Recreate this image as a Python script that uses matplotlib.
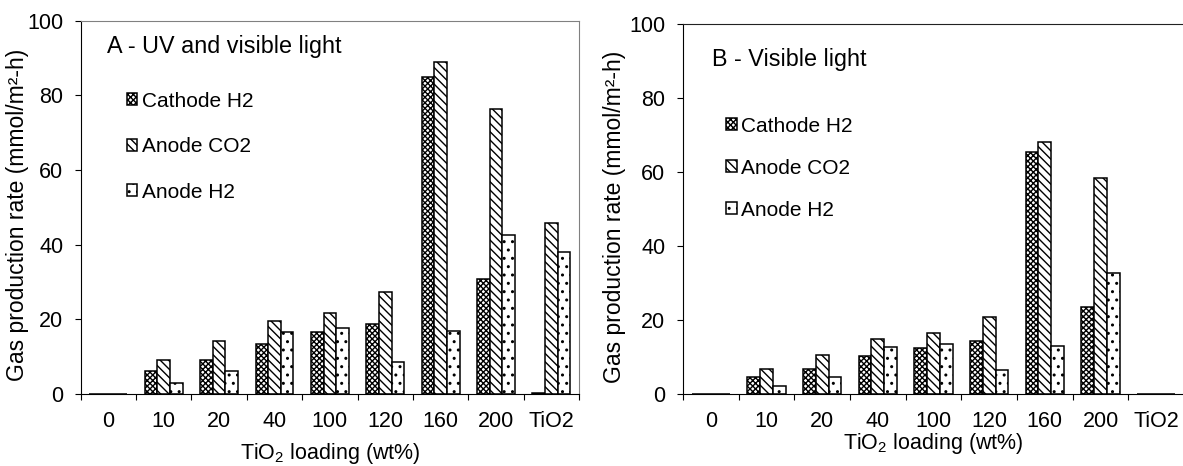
import numpy as np
import matplotlib
matplotlib.use("Agg")
import matplotlib.pyplot as plt

plt.rcParams['font.family'] = ['Liberation Sans', 'DejaVu Sans']
plt.rcParams['mathtext.fontset'] = 'custom'
plt.rcParams['mathtext.rm'] = 'Liberation Sans'
plt.rcParams['mathtext.it'] = 'Liberation Sans'
plt.rcParams['hatch.linewidth'] = 1.0

# data
categories = ['0', '10', '20', '40', '100', '120', '160', '200', 'TiO2']
series = ['Cathode H2', 'Anode CO2', 'Anode H2']

uv_cathode_h2 = [0, 6.1, 9.2, 13.5, 16.5, 18.8, 85.0, 30.9, 0.2]
uv_anode_co2 = [0, 9.2, 14.1, 19.5, 21.7, 27.2, 88.9, 76.4, 45.9]
uv_anode_h2 = [0, 2.9, 6.2, 16.6, 17.7, 8.6, 17.0, 42.7, 38.0]

vis_cathode_h2 = [0, 4.5, 6.8, 10.3, 12.5, 14.3, 65.4, 23.6, 0]
vis_anode_co2 = [0, 6.8, 10.5, 14.9, 16.5, 20.7, 68.2, 58.5, 0]
vis_anode_h2 = [0, 2.1, 4.6, 12.6, 13.5, 6.6, 13.1, 32.7, 0]

hatches = ['xxxxxx', '\\\\\\\\', '..']

W, H = 1183, 466
fig = plt.figure(figsize=(W / 100, H / 100), dpi=100)

ax1 = fig.add_axes([80.7 / W, (H - 394) / H, 498.3 / W, 373.3 / H])
ax2 = fig.add_axes([683 / W, (H - 394) / H, 501 / W, 369.7 / H])


def draw_panel(ax, data, title, title_pos, leg_pos, leg_space, ylab_x, xlab_y):
    x = np.arange(len(categories))
    bw = 0.228
    for i, (vals, h) in enumerate(zip(data, hatches)):
        ax.bar(x + (i - 1) * bw, vals, bw, color='white', edgecolor='black',
               hatch=h, linewidth=1.1, label=series[i])
    ax.set_xlim(-0.5, len(categories) - 0.5)
    ax.set_ylim(0, 100)
    ax.set_yticks(np.arange(0, 101, 20))
    ax.set_xticks(np.arange(len(categories) + 1) - 0.5)
    ax.set_xticklabels([])
    ax.set_xticks(x, minor=True)
    ax.set_xticklabels(categories, minor=True)
    ax.tick_params(axis='x', which='major', direction='out', length=4.6, width=0.8)
    ax.tick_params(axis='x', which='minor', length=0, pad=12, labelsize=15.5)
    ax.tick_params(axis='y', direction='out', length=4.6, width=0.8, pad=8,
                   labelsize=15.5)
    ax.set_ylabel('Gas production rate (mmol/m\u00b2-h)', fontsize=16.5)
    ax.yaxis.set_label_coords(ylab_x, 0.48)
    ax.set_xlabel('TiO$_2$ loading (wt%)', fontsize=15.5)
    ax.xaxis.set_label_coords(0.5, xlab_y)
    ax.text(title_pos[0], title_pos[1], title, transform=ax.transAxes,
            fontsize=16.8, va='center', ha='left')
    ax.legend(loc='upper left', bbox_to_anchor=leg_pos, frameon=False,
              fontsize=15, handlelength=0.5, handleheight=0.5,
              handletextpad=0.2, labelspacing=leg_space, borderpad=0,
              borderaxespad=0)


draw_panel(ax1, [uv_cathode_h2, uv_anode_co2, uv_anode_h2],
           'A - UV and visible light', (0.053, 0.93), (0.093, 0.81), 1.27,
           -0.104, -0.125)
draw_panel(ax2, [vis_cathode_h2, vis_anode_co2, vis_anode_h2],
           'B - Visible light', (0.058, 0.906), (0.086, 0.75), 1.1,
           -0.114, -0.1)

for s in ['top', 'right']:
    ax1.spines[s].set_color('#808080')
ax2.spines['right'].set_visible(False)
ax2.spines['top'].set_color('#222222')

fig.savefig('out.png', dpi=100)
